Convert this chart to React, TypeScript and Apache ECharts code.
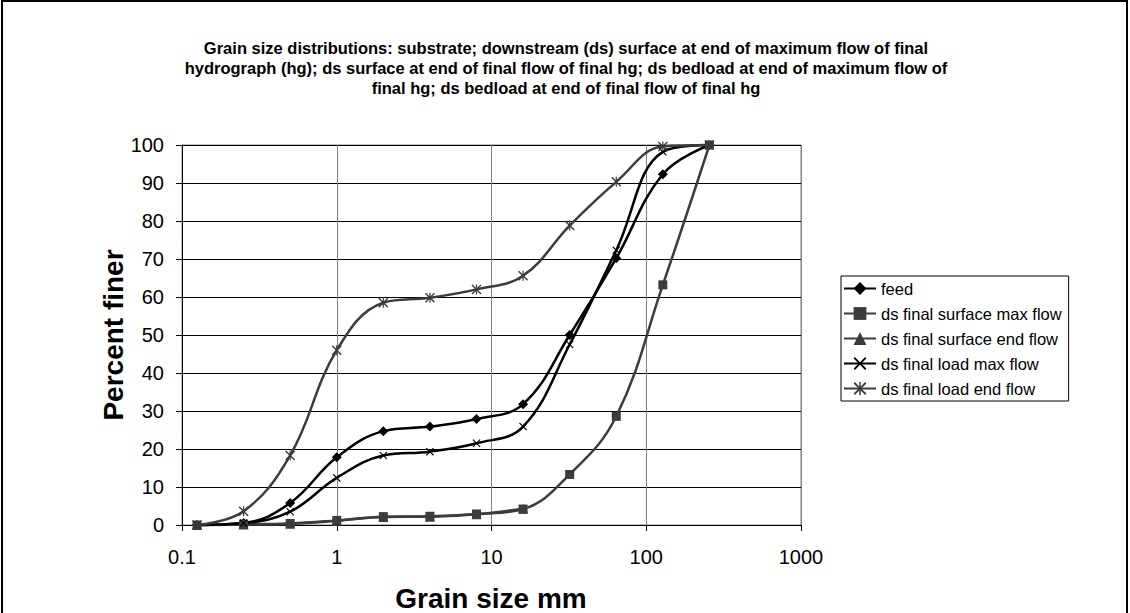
import React, { useEffect, useRef } from "react";
import * as echarts from "echarts";

const titleLines = [
  "Grain size distributions: substrate; downstream (ds) surface at end of maximum flow of final",
  "hydrograph (hg); ds surface at end of final flow of final hg; ds bedload at end of maximum flow of",
  "final hg; ds bedload at end of final flow of final hg",
];
const xAxisTitle = "Grain size mm";
const yAxisTitle = "Percent finer";

const sizes = [0.125, 0.25, 0.5, 1, 2, 4, 8, 16, 32, 64, 128, 256];
const feed = [0, 0.5, 5.8, 17.8, 24.7, 25.9, 27.9, 31.8, 50, 70.2, 92.3, 100];
const surfaceMax = [0, 0.2, 0.4, 1.2, 2.2, 2.3, 2.9, 4.2, 13.3, 28.6, 63.2, 100];
const surfaceEnd = [0, 0.1, 0.3, 1.1, 2.1, 2.2, 2.8, 4.3];
const loadMax = [0, 0.5, 3.5, 12.4, 18.3, 19.3, 21.5, 25.9, 47.5, 72.3, 98.2, 100];
const loadEnd = [0, 3.6, 18.3, 46, 58.5, 59.8, 62, 65.6, 78.8, 90.3, 99.6, 100];

const seriesNames = [
  "feed",
  "ds final surface max flow",
  "ds final surface end flow",
  "ds final load max flow",
  "ds final load end flow",
];

const X_PATH =
  "path://M0,1L1,0L5,4L9,0L10,1L6,5L10,9L9,10L5,6L1,10L0,9L4,5Z";
const STAR_PATH =
  "path://M0,1L1,0L5,4L9,0L10,1L6,5L10,9L9,10L5,6L1,10L0,9L4,5ZM4.4,0L5.6,0L5.6,10L4.4,10Z";

const pairs = (vals: number[]) => vals.map((v, i) => [sizes[i], v]);

const FONT = "'Liberation Sans', Arial, sans-serif";

export default function App() {
  const ref = useRef<HTMLDivElement>(null);
  useEffect(() => {
    if (!ref.current) return;
    const chart = echarts.init(ref.current, null, { renderer: "svg" });
    const dark = "#3c3c3c";
    const mk = (
      name: string,
      vals: number[],
      color: string,
      symbol: string,
      size: number
    ) => ({
      name,
      type: "line",
      data: pairs(vals),
      smooth: 0.4,
      clip: false,
      symbol,
      symbolSize: size,
      showSymbol: true,
      lineStyle: { color, width: 2.5 },
      itemStyle: { color, borderWidth: 0 },
      emphasis: { disabled: true },
    });
    chart.setOption({
      animation: false,
      backgroundColor: "#ffffff",
      textStyle: { fontFamily: FONT },
      legend: {
        orient: "vertical",
        left: 841,
        top: 276,
        padding: [4, 7, 4, 2],
        itemWidth: 32,
        itemHeight: 16,
        itemGap: 8,
        borderColor: "#000",
        borderWidth: 1,
        backgroundColor: "#fff",
        textStyle: {
          fontFamily: FONT,
          fontSize: 16.5,
          color: "#000",
          lineHeight: 16,
        },
        data: seriesNames,
      },
      grid: {
        left: 182,
        top: 145,
        width: 619,
        height: 380,
        show: true,
        borderColor: "#808080",
        borderWidth: 1,
        backgroundColor: "transparent",
      },
      xAxis: {
        type: "log",
        logBase: 10,
        min: 0.1,
        max: 1000,
        axisLine: { show: true, lineStyle: { color: "#000", width: 1 } },
        axisTick: { show: true, length: 6, lineStyle: { color: "#000" } },
        minorTick: { show: false },
        splitLine: { show: true, lineStyle: { color: "#808080", width: 1 } },
        axisLabel: {
          fontFamily: FONT,
          fontSize: 20,
          color: "#000",
          margin: 22,
          formatter: (v: number) =>
            v < 1 ? v.toFixed(1) : String(Math.round(v)),
        },
      },
      yAxis: {
        type: "value",
        min: 0,
        max: 100,
        interval: 10,
        axisLine: { show: true, lineStyle: { color: "#000", width: 1 } },
        axisTick: { show: true, length: 6, lineStyle: { color: "#000" } },
        splitLine: { show: true, lineStyle: { color: "#000", width: 1 } },
        axisLabel: {
          fontFamily: FONT,
          fontSize: 20,
          color: "#000",
          margin: 18,
        },
      },
      graphic: [
        {
          type: "rect",
          shape: { x: 2, y: 1, width: 1125, height: 700 },
          style: { fill: "none", stroke: "#000", lineWidth: 2 },
          silent: true,
        },
        {
          type: "text",
          x: 566,
          y: 38,
          style: {
            text: titleLines.join("\n"),
            fontFamily: FONT,
            fontSize: 16.5,
            fontWeight: "bold",
            lineHeight: 20,
            fill: "#000",
            align: "center",
            verticalAlign: "top",
          },
        },
        {
          type: "text",
          x: 491,
          y: 598,
          style: {
            text: xAxisTitle,
            fontFamily: FONT,
            fontSize: 28,
            fontWeight: "bold",
            fill: "#000",
            align: "center",
            verticalAlign: "middle",
          },
        },
        {
          type: "text",
          x: 113,
          y: 335,
          rotation: Math.PI / 2,
          style: {
            text: yAxisTitle,
            fontFamily: FONT,
            fontSize: 28,
            fontWeight: "bold",
            fill: "#000",
            align: "center",
            verticalAlign: "middle",
          },
        },
      ],
      series: [
        mk(seriesNames[0], feed, "#000", "diamond", 10),
        mk(seriesNames[1], surfaceMax, dark, "rect", 9),
        mk(seriesNames[2], surfaceEnd, dark, "triangle", 10),
        mk(seriesNames[3], loadMax, "#000", X_PATH, 8),
        mk(seriesNames[4], loadEnd, dark, STAR_PATH, 10),
      ],
    });
    return () => chart.dispose();
  }, []);
  return (
    <div
      ref={ref}
      style={{
        position: "fixed",
        left: 0,
        top: 0,
        width: 1130,
        height: 613,
        background: "#fff",
      }}
    />
  );
}
